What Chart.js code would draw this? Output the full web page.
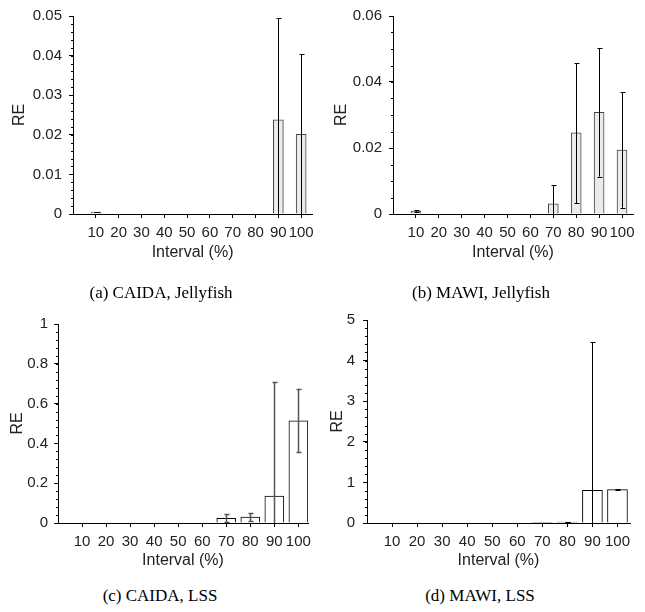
<!DOCTYPE html>
<html><head><meta charset="utf-8">
<script src="https://cdn.jsdelivr.net/npm/chart.js@4.4.0/dist/chart.umd.min.js"></script>
<style>
html,body{margin:0;padding:0;background:#fff}
body{width:645px;height:612px;position:relative;overflow:hidden}
.p{position:absolute}
.p canvas{display:block}
.cap{position:absolute;font-family:"Liberation Serif","Times New Roman",serif;font-size:17px;color:#000;white-space:nowrap;transform:translate(-50%,-50%)}
</style></head><body>
<div class="p" style="left:0;top:0"><canvas id="ca" width="320" height="262"></canvas></div>
<div class="p" style="left:320px;top:0"><canvas id="cb" width="325" height="262"></canvas></div>
<div class="p" style="left:0;top:300px"><canvas id="cc" width="320" height="270"></canvas></div>
<div class="p" style="left:320px;top:300px"><canvas id="cd" width="325" height="270"></canvas></div>
<div class="cap" style="left:161px;top:293px">(a) CAIDA, Jellyfish</div>
<div class="cap" style="left:481px;top:293px">(b) MAWI, Jellyfish</div>
<div class="cap" style="left:160px;top:596px">(c) CAIDA, LSS</div>
<div class="cap" style="left:480px;top:596px">(d) MAWI, LSS</div>
<script>
// ---- data ----
const intervals = [10, 20, 30, 40, 50, 60, 70, 80, 90, 100];

const caidaJelly    = [0.0005, 0, 0, 0, 0, 0, 0, 0, 0.0238, 0.0201];
const caidaJellyErr = [0.0001, 0, 0, 0, 0, 0, 0, 0, 0.0258, 0.0202];

const mawiJelly     = [0.0009, 0, 0, 0, 0, 0, 0.0031, 0.0246, 0.0308, 0.0194];
const mawiJellyErr  = [0.0002, 0, 0, 0, 0, 0, 0.0056, 0.0213, 0.0195, 0.0175];

const caidaLss      = [0, 0, 0, 0, 0, 0, 0.0235, 0.030, 0.135, 0.513];
const caidaLssErr   = [0, 0, 0, 0, 0, 0, 0.020, 0.0186, 0.576, 0.158];

const mawiLss       = [0, 0, 0, 0, 0, 0, 0.004, 0.025, 0.806, 0.822];
const mawiLssErr    = [0, 0, 0, 0, 0, 0, 0, 0.01, 3.643, 0.02];

const yTicksA = [0, 0.01, 0.02, 0.03, 0.04, 0.05];
const yTicksB = [0, 0.02, 0.04, 0.06];
const yTicksC = [0, 0.2, 0.4, 0.6, 0.8, 1];
const yTicksD = [0, 1, 2, 3, 4, 5];

// ---- styling ----
Chart.defaults.font.family = '"Liberation Sans", Arial, Helvetica, sans-serif';
Chart.defaults.font.size = 15;
Chart.defaults.color = '#222';

const errPlugin = {
  id: 'err',
  afterDatasetsDraw(chart, args, o) {
    const {ctx, chartArea: a, scales: {x, y}} = chart;
    const vals = chart.data.datasets[0].data;
    ctx.save();
    ctx.beginPath();
    ctx.rect(a.left, a.top - 6, a.right - a.left, a.bottom - a.top + 6);
    ctx.clip();
    ctx.strokeStyle = o.color;
    ctx.lineWidth = o.width;
    vals.forEach((pt, i) => {
      const e = o.errors[i];
      if (!e) return;
      const px = Math.round(x.getPixelForValue(pt.x)) + 0.5;
      const top = Math.round(y.getPixelForValue(pt.y + e)) + 0.5;
      const lowV = pt.y - e;
      const bot = y.getPixelForValue(Math.max(lowV, 0));
      ctx.beginPath();
      ctx.moveTo(px, top); ctx.lineTo(px, bot);
      ctx.moveTo(px - o.cap, top); ctx.lineTo(px + o.cap + 1, top);
      if (lowV > 0) {
        const b = Math.round(bot) + 0.5;
        ctx.moveTo(px - o.cap, b); ctx.lineTo(px + o.cap + 1, b);
      }
      ctx.stroke();
    });
    ctx.restore();
  }
};

const minorPlugin = {
  id: 'minor',
  afterDraw(chart, args, o) {
    const {ctx, chartArea: a, scales: {y}} = chart;
    ctx.save();
    ctx.strokeStyle = '#000';
    ctx.lineWidth = 1;
    const x0 = Math.round(a.left) + 0.5;
    const n = Math.round(y.max / o.step);
    ctx.beginPath();
    for (let k = 0; k <= n; k++) {
      const py = Math.round(y.getPixelForValue(k * o.step)) + 0.5;
      ctx.moveTo(x0 - 2.5, py); ctx.lineTo(x0, py);
    }
    ctx.stroke();
    ctx.restore();
  }
};

function panel(id, cfg) {
  const cv = document.getElementById(id);
  const W = cv.width, H = cv.height;
  const padLeft = cfg.titleLeft;
  const yW = cfg.area.left - padLeft;
  const xH = H - cfg.area.bottom;
  new Chart(cv, {
    type: 'bar',
    data: {
      datasets: [{
        data: intervals.map((v, i) => ({x: v, y: cfg.values[i]})),
        backgroundColor: cfg.fill,
        borderColor: cfg.border,
        borderWidth: 1,
        barThickness: cfg.barW
      }]
    },
    options: {
      responsive: false,
      animation: false,
      events: [],
      layout: {padding: {left: padLeft, top: cfg.area.top, right: W - cfg.area.right, bottom: 0}},
      plugins: {
        legend: {display: false},
        tooltip: {enabled: false},
        err: {errors: cfg.errors, color: cfg.errColor, width: cfg.errWidth, cap: 2},
        minor: {step: cfg.minor}
      },
      scales: {
        x: {
          type: 'linear',
          min: 0, max: cfg.xMax,
          offset: false,
          afterBuildTicks: s => { s.ticks = intervals.map(v => ({value: v})); },
          afterFit: s => { s.height = xH; },
          ticks: {padding: cfg.xPad, maxRotation: 0, autoSkip: false, color: '#222',
                  callback: v => String(v)},
          grid: {display: true, drawOnChartArea: false, drawTicks: true, tickLength: 4, color: '#000', offset: false},
          border: {display: true, color: '#000', width: 1},
          title: {display: true, text: 'Interval (%)', padding: 0, color: '#222', font: {size: 16}}
        },
        y: {
          min: 0, max: cfg.yTicks[cfg.yTicks.length - 1],
          afterBuildTicks: s => { s.ticks = cfg.yTicks.map(v => ({value: v})); },
          afterFit: s => { s.width = yW; },
          ticks: {padding: cfg.yPad, color: '#222', callback: v => String(+v.toFixed(4))},
          grid: {display: true, drawOnChartArea: false, drawTicks: true, tickLength: 4, color: '#000'},
          border: {display: true, color: '#000', width: 1},
          title: {display: true, text: 'RE', padding: 0, color: '#222', font: {size: 16}}
        }
      }
    },
    plugins: [errPlugin, minorPlugin]
  });
}

panel('ca', {values: caidaJelly, errors: caidaJellyErr, yTicks: yTicksA, minor: 0.002,
  area: {left: 73, right: 313, top: 14, bottom: 214}, titleLeft: 10, xMax: 104.8,
  fill: '#ebebeb', border: '#444', barW: 10, errColor: '#000', errWidth: 1, xPad: 6, yPad: 7});
panel('cb', {values: mawiJelly, errors: mawiJellyErr, yTicks: yTicksB, minor: 0.005,
  area: {left: 73, right: 313, top: 14, bottom: 214}, titleLeft: 12, xMax: 104.8,
  fill: '#ebebeb', border: '#444', barW: 10, errColor: '#000', errWidth: 1, xPad: 6, yPad: 7});
panel('cc', {values: caidaLss, errors: caidaLssErr, yTicks: yTicksC, minor: 0.04,
  area: {left: 58, right: 308, top: 24, bottom: 223}, titleLeft: 8, xMax: 104,
  fill: '#fff', border: '#000', barW: 19, errColor: '#555', errWidth: 1.5, xPad: 6, yPad: 6});
panel('cd', {values: mawiLss, errors: mawiLssErr, yTicks: yTicksD, minor: 0.2,
  area: {left: 47, right: 310, top: 20, bottom: 223}, titleLeft: 8, xMax: 105,
  fill: '#fff', border: '#000', barW: 20, errColor: '#000', errWidth: 1, xPad: 6, yPad: 8});
</script>
</body></html>
